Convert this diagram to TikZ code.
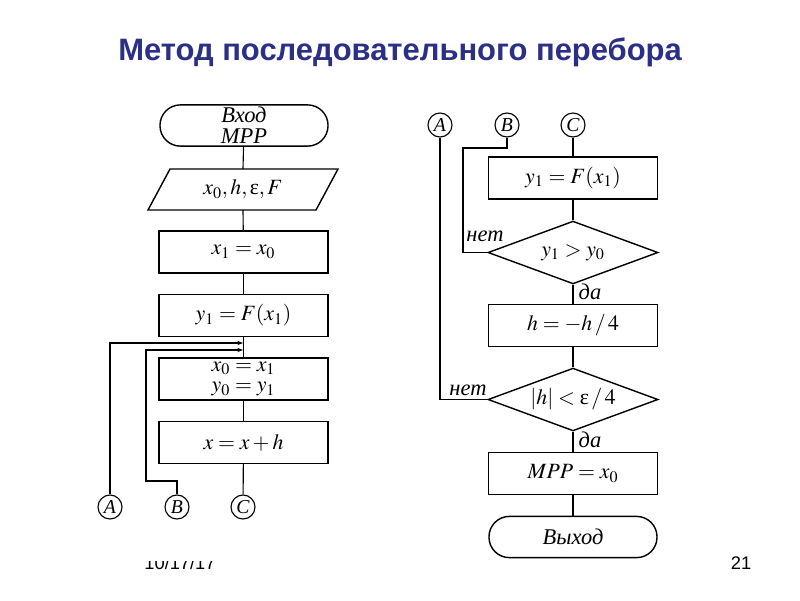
\documentclass[tikz,border=0pt]{standalone}
\usepackage{mathptmx}
\usepackage[no-math]{fontspec}
\setmainfont{Liberation Serif}
\newfontfamily\titlefont{Liberation Sans}
\usetikzlibrary{shapes.geometric,arrows.meta}
\definecolor{titleblue}{HTML}{2B2F86}
\newcommand{\eps}{\mbox{\normalfont ε}}
\tikzset{
  proc/.style={draw, line width=1pt, minimum width=4.225cm, minimum height=1.05cm, inner sep=0pt, font=\fontsize{15.5}{15}\selectfont},
  term/.style={draw, line width=1pt, rounded corners=0.51cm, minimum width=4.2cm, minimum height=1.03cm, inner sep=0pt, font=\fontsize{16}{15}\selectfont\itshape, align=center},
  dec/.style={draw, diamond, line width=1pt, aspect=2.7, minimum width=4.25cm, minimum height=1.57cm, inner sep=0pt, font=\fontsize{15.5}{15}\selectfont},
  conn/.style={draw, circle, line width=0.8pt, minimum size=0.6cm, inner sep=0pt, font=\fontsize{14}{14}\selectfont\itshape},
  flow/.style={line width=0.8pt},
  lbl/.style={font=\fontsize{16}{16}\selectfont\itshape, inner sep=0pt},
  arr/.style={flow, -{Stealth[length=4pt,width=3pt]}}
}
\begin{document}
\begin{tikzpicture}[x=0.025cm,y=-0.025cm]
\useasboundingbox (0,0) rectangle (800,600);
\fill[white] (0,0) rectangle (800,600);
% title
\node[font=\titlefont\bfseries\fontsize{22}{24}\selectfont, text=titleblue] (title) at (400,52) {Метод последовательного перебора};

% left column
\node[term] (in) at (244,125.5) {Вход\\МРР};
\node[minimum width=4.2cm, minimum height=1.02cm, inner sep=0pt, font=\fontsize{15.5}{15}\selectfont] (par) at (243,189.5) {$x_0, h, \eps, F$};
\draw[line width=1pt] (170,169) -- (338,169) -- (316,210) -- (148,210) -- cycle;
\node[proc] (b1) at (243.5,252) {$x_1 = x_0$};
\node[proc] (b2) at (243.5,315.5) {$y_1 = F(x_1)$};
\node[proc, align=center, font=\fontsize{15.5}{14.5}\selectfont] (b3) at (243.5,379) {$x_0 = x_1$\\$y_0 = y_1$};
\node[proc] (b4) at (243.5,442.5) {$x = x + h$};
\node[conn] (cA) at (110,507) {A};
\node[conn] (cB) at (177,507) {B};
\node[conn] (cC) at (243,507) {C};

\draw[flow] (in) -- (243,169);
\draw[flow] (243,210) -- (b1);
\draw[flow] (b1) -- (b2);
\draw[flow] (b2) -- (b3);
\draw[flow] (b3) -- (b4);
\draw[flow] (b4) -- (cC);
\coordinate (jA) at (243,343);
\coordinate (jB) at (243,350);
\coordinate (kB) at (146,481);
\draw[arr] (cA) |- (jA);
\draw[arr] (cB) |- (kB) |- (jB);

% right column
\node[conn] (rA) at (440,125) {A};
\node[conn] (rB) at (507,125) {B};
\node[conn] (rC) at (573,125) {C};
\node[proc] (r1) at (573,178) {$y_1 = F(x_1)$};
\node[dec] (d1) at (573,252.5) {$y_1 > y_0$};
\node[proc] (r2) at (573,325.5) {$h = -h\,/\,4$};
\node[dec] (d2) at (573,399.5) {$|h| < \eps\,/\,4$};
\node[proc] (r3) at (573,473.5) {$MPP = x_0$};
\node[term] (out) at (573,537) {Выход};

\draw[flow] (rC) -- (r1);
\draw[flow] (r1) -- (d1);
\draw[flow] (d1) -- (r2);
\draw[flow] (r2) -- (d2);
\draw[flow] (d2) -- (r3);
\draw[flow] (r3) -- (out);
\coordinate (kR) at (463,148);
\draw[flow] (rB) |- (kR) |- (d1.west);
\draw[flow] (rA) |- (d2.west);

\node[lbl] (n1) at (485,236) {нет};
\node[lbl] (n2) at (468,390) {нет};
\node[lbl] (y1) at (590,292) {да};
\node[lbl] (y2) at (590,440) {да};

% footer
\begin{scope}
\clip (130,561) rectangle (230,580);
\node[font=\titlefont\fontsize{13}{14}\selectfont] (date) at (180,563) {10/17/17};
\end{scope}
\node[font=\titlefont\fontsize{13}{14}\selectfont] (page) at (741,563) {21};
\end{tikzpicture}
\end{document}
